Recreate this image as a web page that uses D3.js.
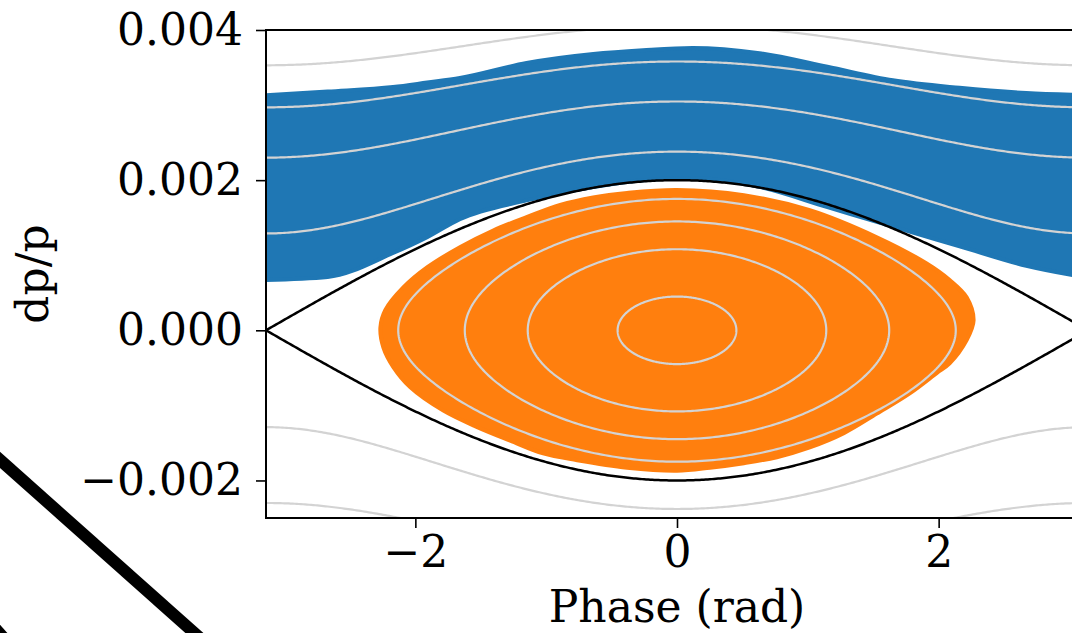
<!DOCTYPE html>
<meta charset="utf-8">
<script src="https://d3js.org/d3.v7.min.js"></script>
<style>
  body { margin: 0; background: #fff; }
  text { font-family: "DejaVu Serif", serif; fill: #000; }
</style>
<div id="my_dataviz"></div>
<script>
// axis ticks
var phaseTicks = [-2, 0, 2];
var dpTicks = [-0.002, 0, 0.002, 0.004];

// bucket half height at phase 0 (separatrix)
var bucketHeight = 0.002;

// contour levels
var innerLevels = [0.00045, 0.00108, 0.00145, 0.00175];   // dp/p at phase 0
var outerLevels = [0.00129, 0.0023, 0.00297, 0.00353];    // |dp/p| at phase +-pi

// blue cloud (outside bucket): phase, lower and upper edge
var bluePhase = [-3.1416, -2.67, -2.17, -1.91, -1.66, -1.15, -0.64, -0.26, 0.12, 0.63, 1.15, 1.65, 2.16, 2.67, 3.1416];
var blueTop   = [0.00313, 0.00318, 0.00324, 0.0033, 0.00336, 0.00356, 0.00368, 0.00373, 0.00376, 0.00369, 0.00351, 0.00333, 0.00323, 0.00316, 0.00313];
var blueBot   = [0.00067, 0.00071, 0.00103, 0.00124, 0.00148, 0.00173, 0.00191, 0.002, 0.00203, 0.00191, 0.00164, 0.00138, 0.00112, 0.00086, 0.0007];

// orange cloud (inside bucket): outline going round
var orangePhase = [-2.267, -2.229, -2.092, -1.908, -1.656, -1.405, -1.145, -0.893, -0.641, -0.382, 0, 0.511, 1.015, 1.527, 1.908, 2.084, 2.214, 2.267,
                   2.214, 2.084, 1.985, 1.779, 1.527, 1.275, 1.015, 0.763, 0.511, 0.252, 0, -0.382, -0.763, -1.023, -1.275, -1.527, -1.786, -2.038, -2.168, -2.244];
var orangeDp    = [0.00004, 0.00027, 0.00057, 0.00084, 0.00111, 0.00133, 0.00151, 0.00167, 0.00177, 0.00183, 0.00187, 0.0018, 0.0016, 0.00124, 0.00089, 0.00067, 0.00044, 0.00013,
                   -0.00013, -0.00044, -0.00057, -0.00084, -0.00111, -0.00137, -0.00156, -0.00169, -0.00177, -0.00183, -0.00187, -0.00183, -0.00173, -0.00164, -0.00147, -0.00129, -0.00107, -0.00076, -0.00049, -0.00023];

var W = 1072, H = 633;
var margin = {top: 30, left: 266},
    width = 822,
    height = 488;

var svg = d3.select("#my_dataviz")
  .append("svg")
    .attr("width", W)
    .attr("height", H);

var g = svg.append("g")
    .attr("transform", "translate(" + margin.left + "," + margin.top + ")");

var x = d3.scaleLinear().domain([-Math.PI, Math.PI]).range([0, width]);
var y = d3.scaleLinear().domain([-0.0025, 0.004]).range([height, 0]);

g.append("clipPath").attr("id", "clip")
  .append("rect").attr("width", width).attr("height", height);

var plot = g.append("g").attr("clip-path", "url(#clip)");

// blue particles
var blueData = bluePhase.map(function(p, i) { return {p: p, lo: blueBot[i], hi: blueTop[i]}; });
plot.append("path")
  .datum(blueData)
  .attr("d", d3.area()
    .x(function(d) { return x(d.p); })
    .y0(function(d) { return y(d.lo); })
    .y1(function(d) { return y(d.hi); })
    .curve(d3.curveMonotoneX))
  .attr("fill", "#1f77b4")
  .attr("stroke", "#1f77b4")
  .attr("stroke-width", 4)
  .attr("stroke-linejoin", "round");

// orange particles
var orangeData = orangePhase.map(function(p, i) { return [p, orangeDp[i]]; });
plot.append("path")
  .datum(orangeData)
  .attr("d", d3.line()
    .x(function(d) { return x(d[0]); })
    .y(function(d) { return y(d[1]); })
    .curve(d3.curveCatmullRomClosed))
  .attr("fill", "#ff7f0e")
  .attr("stroke", "#ff7f0e")
  .attr("stroke-width", 4)
  .attr("stroke-linejoin", "round");

// Hamiltonian contours
var grid = d3.range(-Math.PI, Math.PI + 0.001, Math.PI / 200);
var tGrid = d3.range(0, 2 * Math.PI + 0.001, Math.PI / 200);
var line = d3.line().x(function(d) { return x(d[0]); }).y(function(d) { return y(d[1]); });

innerLevels.forEach(function(c) {
  var pts = tGrid.map(function(t) {
    return [2 * Math.asin(c / bucketHeight * Math.sin(t)), c * Math.cos(t)];
  });
  plot.append("path").attr("d", line(pts))
    .attr("fill", "none").attr("stroke", "#d3d3d3").attr("stroke-width", 2.2);
});

outerLevels.forEach(function(e) {
  [1, -1].forEach(function(s) {
    var pts = grid.map(function(p) {
      var c = Math.cos(p / 2);
      return [p, s * Math.sqrt(e * e + bucketHeight * bucketHeight * c * c)];
    });
    plot.append("path").attr("d", line(pts))
      .attr("fill", "none").attr("stroke", "#d3d3d3").attr("stroke-width", 2.2);
  });
});

// separatrix
[1, -1].forEach(function(s) {
  var pts = grid.map(function(p) { return [p, s * bucketHeight * Math.cos(p / 2)]; });
  plot.append("path").attr("d", line(pts))
    .attr("fill", "none").attr("stroke", "#000").attr("stroke-width", 2.5);
});

// frame
g.append("path")
  .attr("d", "M" + (width + 20) + ",0H0V" + height + "H" + (width + 20))
  .attr("fill", "none").attr("stroke", "#000").attr("stroke-width", 2);

// axes
var xAxis = g.append("g")
  .attr("transform", "translate(0," + height + ")")
  .call(d3.axisBottom(x).tickValues(phaseTicks).tickSize(10).tickPadding(8)
    .tickFormat(function(d) { return d3.format("d")(d).replace("-", "\u2212"); }));
var yAxis = g.append("g")
  .call(d3.axisLeft(y).tickValues(dpTicks).tickSize(10).tickPadding(13)
    .tickFormat(function(d) { return d3.format(".3f")(d).replace("-", "\u2212"); }));

[xAxis, yAxis].forEach(function(a) {
  a.select(".domain").remove();
  a.selectAll(".tick line").attr("stroke", "#000").attr("stroke-width", 1.6);
  a.selectAll(".tick text")
    .style("font-family", "'DejaVu Serif', serif")
    .style("font-size", "44px")
    .attr("fill", "#000");
});

// axis labels
svg.append("text")
  .attr("x", margin.left + x(0))
  .attr("y", 622)
  .attr("text-anchor", "middle")
  .style("font-size", "44px")
  .text("Phase (rad)");

svg.append("text")
  .attr("transform", "translate(48," + (margin.top + height / 2) + ") rotate(-90)")
  .attr("text-anchor", "middle")
  .style("font-size", "44px")
  .text("dp/p");

// black strokes at the lower left corner
svg.append("line")
  .attr("x1", -10).attr("y1", 451).attr("x2", 200).attr("y2", 638)
  .attr("stroke", "#000").attr("stroke-width", 12);
svg.append("line")
  .attr("x1", -30).attr("y1", 600).attr("x2", 10).attr("y2", 645)
  .attr("stroke", "#000").attr("stroke-width", 12);
</script>
